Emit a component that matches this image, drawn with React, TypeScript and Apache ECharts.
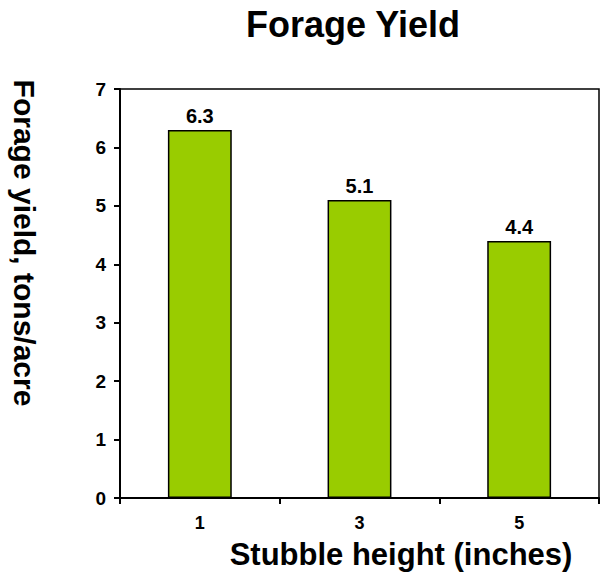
import React, { useEffect, useRef } from "react";
import * as echarts from "echarts";

const categories = ["1", "3", "5"];
const yieldValues = [6.3, 5.1, 4.4];
const yTicks = [0, 1, 2, 3, 4, 5, 6, 7];

const FONT = "'Liberation Sans', Arial, sans-serif";

export default function App() {
  const ref = useRef<HTMLDivElement>(null);
  useEffect(() => {
    if (!ref.current) return;
    const chart = echarts.init(ref.current, null, { renderer: "svg" });
    chart.setOption({
      animation: false,
      backgroundColor: "#ffffff",
      grid: {
        left: 120,
        top: 89,
        width: 479,
        bottom: 75,
        show: true,
        borderColor: "#000",
        borderWidth: 1.5,
        backgroundColor: "transparent",
      },
      graphic: [
        {
          type: "text",
          x: 353,
          y: 24,
          style: {
            text: "Forage Yield",
            font: `bold 36px ${FONT}`,
            fill: "#000",
            align: "center",
            verticalAlign: "middle",
          },
        },
        {
          type: "text",
          x: 24,
          y: 243,
          rotation: -Math.PI / 2,
          style: {
            text: "Forage yield, tons/acre",
            font: `bold 30px ${FONT}`,
            fill: "#000",
            align: "center",
            verticalAlign: "middle",
          },
        },
        {
          type: "text",
          x: 401,
          y: 554,
          style: {
            text: "Stubble height (inches)",
            font: `bold 31px ${FONT}`,
            fill: "#000",
            align: "center",
            verticalAlign: "middle",
          },
        },
      ],
      xAxis: {
        type: "category",
        data: categories,
        axisLine: { lineStyle: { color: "#000", width: 2 } },
        axisTick: { show: true, alignWithLabel: false, length: 6, lineStyle: { color: "#000", width: 2 } },
        axisLabel: {
          color: "#000",
          fontFamily: FONT,
          fontWeight: "bold",
          fontSize: 18,
          margin: 16,
        },
      },
      yAxis: {
        type: "value",
        min: yTicks[0],
        max: yTicks[yTicks.length - 1],
        interval: 1,
        axisLine: { show: true, lineStyle: { color: "#000", width: 2 } },
        axisTick: { show: true, length: 6, lineStyle: { color: "#000", width: 2 } },
        splitLine: { show: false },
        axisLabel: {
          color: "#000",
          fontFamily: FONT,
          fontWeight: "bold",
          fontSize: 19,
          margin: 14,
        },
      },
      series: [
        {
          type: "bar",
          data: yieldValues,
          barWidth: "40%",
          itemStyle: { color: "#99CC00", borderColor: "#000", borderWidth: 1.5 },
          label: {
            show: true,
            position: "top",
            distance: 4,
            color: "#000",
            fontFamily: FONT,
            fontWeight: "bold",
            fontSize: 20,
            formatter: (p: any) => p.value.toFixed(1),
          },
        },
      ],
    });
    return () => chart.dispose();
  }, []);
  return <div ref={ref} style={{ width: 600, height: 573, position: "absolute", left: 0, top: 0 }} />;
}
